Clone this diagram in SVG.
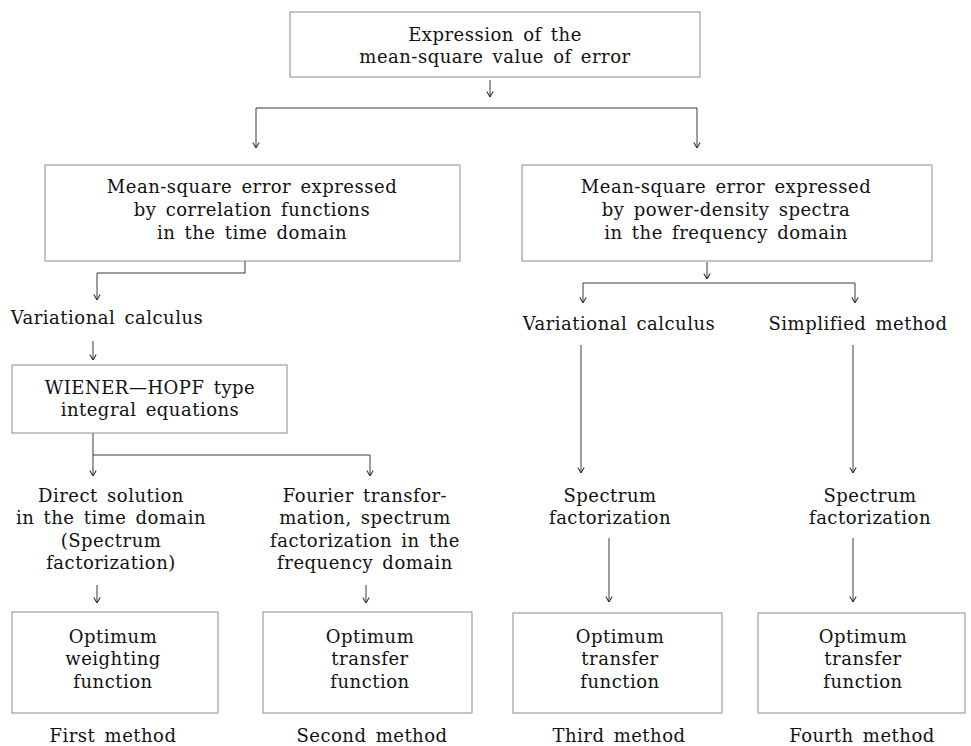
<svg xmlns="http://www.w3.org/2000/svg" width="971" height="746" viewBox="0 0 971 746">
<style>
text{font-family:"DejaVu Serif","Liberation Serif",serif;font-size:18px;fill:#111;text-anchor:middle;letter-spacing:0.5px;word-spacing:3px}
.box{fill:none;stroke:#8c8c8c;stroke-width:1}
.con{fill:none;stroke:#3a3a3a;stroke-width:1}
</style>
<defs>
<marker id="ah" viewBox="0 0 10 10" refX="9.5" refY="5" markerWidth="8" markerHeight="8" markerUnits="userSpaceOnUse" orient="auto-start-reverse">
<path d="M2.5,1 L9.5,5 L2.5,9" fill="none" stroke="#2a2a2a" stroke-width="1.3"/>
</marker>
</defs>
<rect width="971" height="746" fill="#fff"/>
<g id="connectors">
<line class="con" x1="490" y1="80" x2="490" y2="97" marker-end="url(#ah)"/>
<polyline class="con" points="256,148 256,108 697,108 697,148" marker-start="url(#ah)" marker-end="url(#ah)"/>
<polyline class="con" points="245,261 245,273 97,273 97,300" marker-end="url(#ah)"/>
<line class="con" x1="93" y1="341" x2="93" y2="360" marker-end="url(#ah)"/>
<line class="con" x1="93" y1="433" x2="93" y2="476" marker-end="url(#ah)"/>
<polyline class="con" points="93,455 370,455 370,476" marker-end="url(#ah)"/>
<line class="con" x1="97" y1="585" x2="97" y2="603" marker-end="url(#ah)"/>
<line class="con" x1="366" y1="585" x2="366" y2="603" marker-end="url(#ah)"/>
<line class="con" x1="707" y1="262" x2="707" y2="279" marker-end="url(#ah)"/>
<polyline class="con" points="583,303 583,283 855,283 855,303" marker-start="url(#ah)" marker-end="url(#ah)"/>
<line class="con" x1="581" y1="345" x2="581" y2="473" marker-end="url(#ah)"/>
<line class="con" x1="853" y1="345" x2="853" y2="473" marker-end="url(#ah)"/>
<line class="con" x1="609" y1="538" x2="609" y2="602" marker-end="url(#ah)"/>
<line class="con" x1="853" y1="538" x2="853" y2="602" marker-end="url(#ah)"/>
</g>
<g id="top">
<rect class="box" x="290" y="12" width="410" height="65"/>
<text x="495" y="41">Expression of the</text>
<text x="495" y="63">mean-square value of error</text>
</g>
<g id="corr">
<rect class="box" x="45" y="165" width="415" height="96"/>
<text x="252" y="193">Mean-square error expressed</text>
<text x="252" y="216">by correlation functions</text>
<text x="252" y="239">in the time domain</text>
</g>
<g id="spectra">
<rect class="box" x="522" y="165" width="410" height="96"/>
<text x="726" y="193">Mean-square error expressed</text>
<text x="726" y="216">by power-density spectra</text>
<text x="726" y="239">in the frequency domain</text>
</g>
<g id="var1"><text x="107" y="324">Variational calculus</text></g>
<g id="wh">
<rect class="box" x="12" y="365" width="275" height="68"/>
<text x="150" y="394">WIENER—HOPF type</text>
<text x="150" y="416">integral equations</text>
</g>
<g id="direct">
<text x="111" y="502">Direct solution</text>
<text x="111" y="524">in the time domain</text>
<text x="111" y="547">(Spectrum</text>
<text x="111" y="569">factorization)</text>
</g>
<g id="fourier">
<text x="365" y="502">Fourier transfor-</text>
<text x="365" y="524">mation, spectrum</text>
<text x="365" y="547">factorization in the</text>
<text x="365" y="569">frequency domain</text>
</g>
<g id="var2"><text x="619" y="330">Variational calculus</text></g>
<g id="simp"><text x="858" y="330">Simplified method</text></g>
<g id="sf3">
<text x="610" y="502">Spectrum</text>
<text x="610" y="524">factorization</text>
</g>
<g id="sf4">
<text x="870" y="502">Spectrum</text>
<text x="870" y="524">factorization</text>
</g>
<g id="opt1">
<rect class="box" x="12" y="612" width="206" height="101"/>
<text x="113" y="643">Optimum</text>
<text x="113" y="665">weighting</text>
<text x="113" y="688">function</text>
</g>
<g id="opt2">
<rect class="box" x="263" y="612" width="209" height="101"/>
<text x="370" y="643">Optimum</text>
<text x="370" y="665">transfer</text>
<text x="370" y="688">function</text>
</g>
<g id="opt3">
<rect class="box" x="513" y="613" width="209" height="100"/>
<text x="620" y="643">Optimum</text>
<text x="620" y="665">transfer</text>
<text x="620" y="688">function</text>
</g>
<g id="opt4">
<rect class="box" x="758" y="613" width="207" height="100"/>
<text x="863" y="643">Optimum</text>
<text x="863" y="665">transfer</text>
<text x="863" y="688">function</text>
</g>
<g id="labels">
<text x="113" y="742">First method</text>
<text x="372" y="742">Second method</text>
<text x="619" y="742">Third method</text>
<text x="862" y="742">Fourth method</text>
</g>
</svg>
